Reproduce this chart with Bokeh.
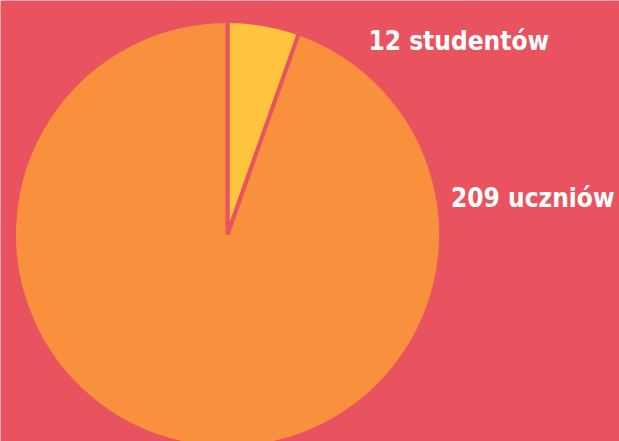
from math import pi
from bokeh.plotting import figure
from bokeh.models import Range1d, ColumnDataSource
from bokeh.core.properties import value
from bokeh.embed import file_html
from bokeh.resources import INLINE

categories = ["studentów", "uczniów"]
counts = [12, 209]
labels = ["12 studentów", "209 uczniów"]
colors = ["#FFC43D", "#F8903E"]
BG = "#E9535F"

total = sum(counts)
starts, ends = [], []
a = pi / 2
for c in counts:
    starts.append(a)
    a -= 2 * pi * c / total
    ends.append(a)

W, H = 619, 441
p = figure(width=W, height=H, output_backend="svg", toolbar_location=None,
           x_range=Range1d(0, W), y_range=Range1d(0, H),
           min_border=0)
p.axis.visible = False
p.grid.visible = False
p.outline_line_color = None
p.background_fill_color = BG
p.border_fill_color = BG

src = ColumnDataSource(dict(start=starts, end=ends, color=colors))
p.wedge(x=227, y=441 - 234, radius=213.5, start_angle="start", end_angle="end",
        direction="clock", fill_color="color", line_color=BG, line_width=4, source=src)

lsrc = ColumnDataSource(dict(x=[368, 614], y=[441 - 40, 441 - 197], t=labels,
                             align=["left", "right"]))
p.text(x="x", y="y", text="t", source=lsrc, text_color="white",
       text_font=value("DejaVu Sans Condensed"), text_font_style="bold",
       text_font_size="26px", text_baseline="alphabetic", text_align="align")

html = file_html(p, INLINE)
html = html.replace("<body>", '<body style="margin:0;background:%s">' % BG, 1)
open("out.html", "w").write(html)
